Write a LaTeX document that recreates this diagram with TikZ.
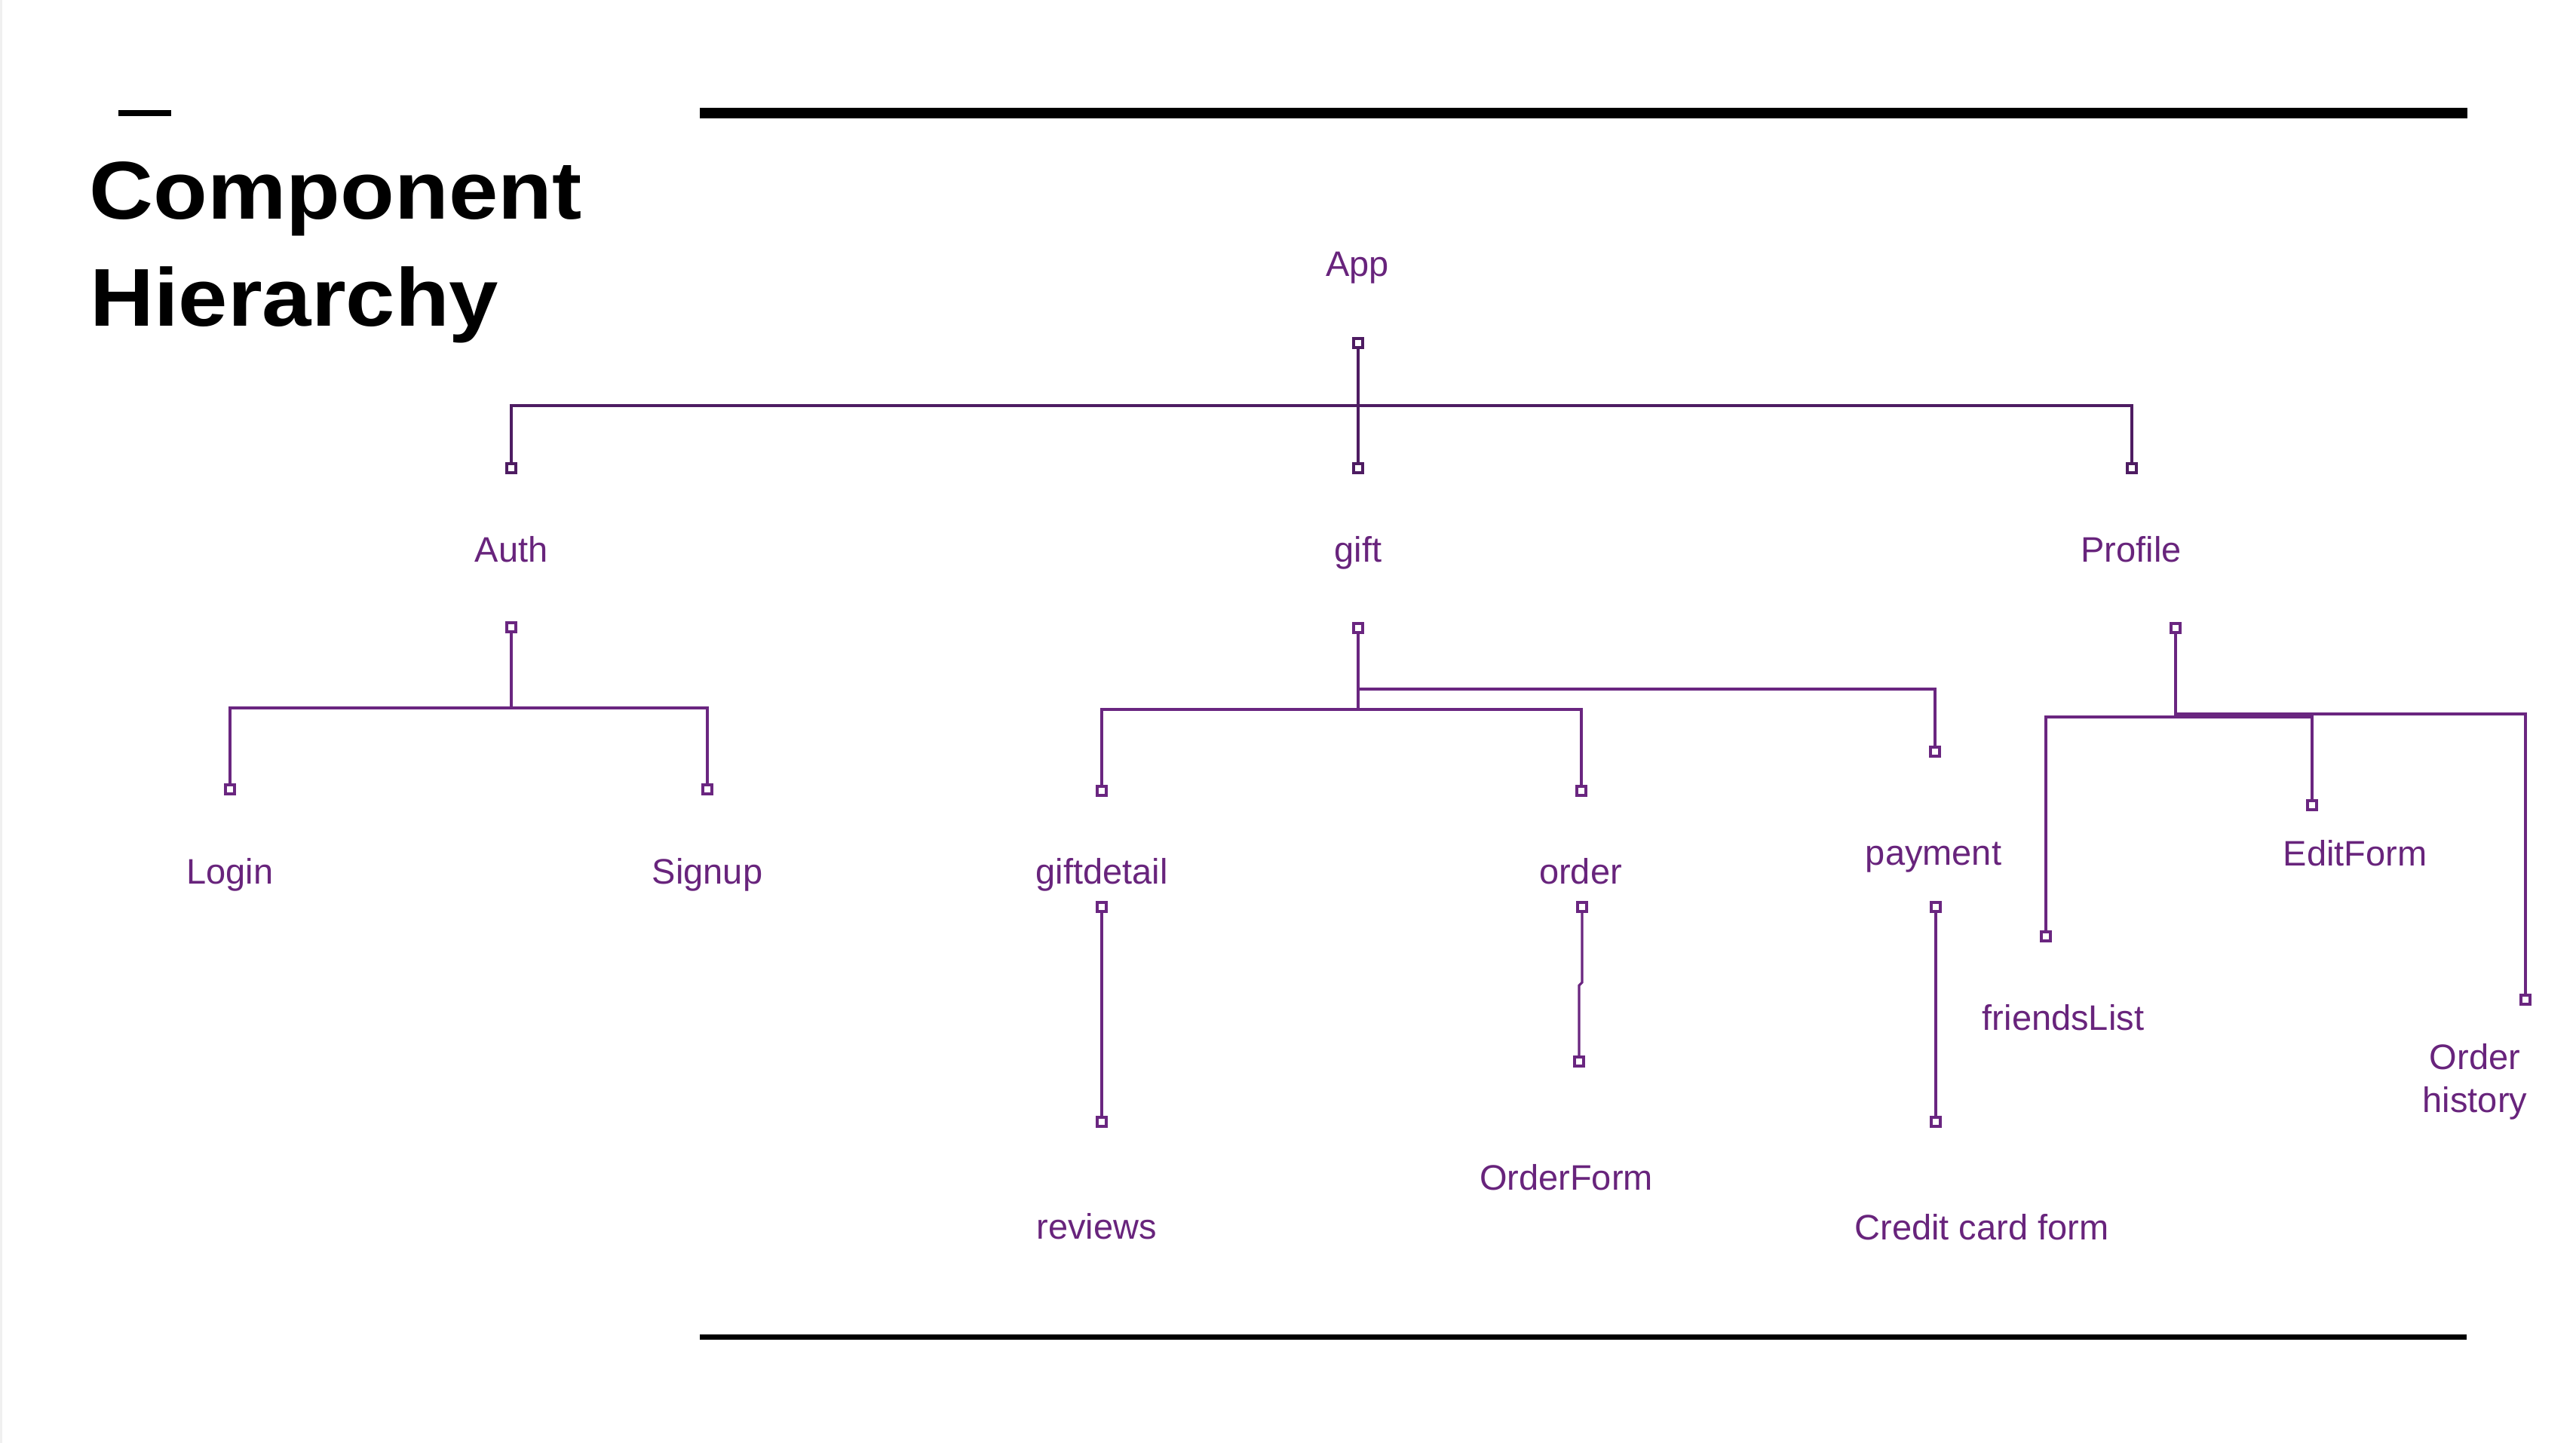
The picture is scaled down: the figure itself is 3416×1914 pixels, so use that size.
\documentclass[tikz,border=0pt]{standalone}
\usepackage{fontspec}
\setmainfont{Liberation Sans}
\usetikzlibrary{backgrounds}
\definecolor{lab}{RGB}{104,36,124}
\definecolor{wirec}{RGB}{106,38,128}
\definecolor{wiredarkc}{RGB}{78,28,98}
\tikzset{
  lbl/.style={font=\fontsize{11.75}{14.25}\selectfont, text=lab, inner sep=0pt, anchor=base},
  ttl/.style={font=\fontsize{27.2}{27.2}\selectfont\bfseries, inner sep=0pt, anchor=base west},
  port/.style={rectangle, draw=wirec, fill=white, line width=0.9pt, minimum size=3.1pt, inner sep=0pt},
  portdark/.style={port, draw=wiredarkc},
  wire/.style={draw=wirec, line width=0.8pt},
  wiredark/.style={draw=wiredarkc, line width=0.8pt}
}
\begin{document}
\begin{tikzpicture}[x=0.25pt,y=-0.25pt]
\useasboundingbox (0,0) rectangle (3416,1914);
\fill[gray!12] (0,0) rectangle (3,1914);
% decorative rules
\draw[line width=1.85pt] (157,150) -- (227,150);
\draw[line width=3.4pt] (928,150) -- (3272,150);
\draw[line width=1.85pt] (928,1773.3) -- (3271,1773.3);
% title
\node[ttl] (t1) at (118,291) {\scalebox{1.08}[1]{Component}};
\node[ttl] (t2) at (118.4,433) {\scalebox{1.08}[1]{Hierarchy}};
% labels
\node[lbl] (app) at (1800,367) {App};
\node[lbl] (auth) at (678,745) {Auth};
\node[lbl] (gift) at (1801,745) {gift};
\node[lbl] (profile) at (2826,745) {Profile};
\node[lbl] (login) at (305,1172) {Login};
\node[lbl] (signup) at (938,1172) {Signup};
\node[lbl] (giftdetail) at (1461,1172) {giftdetail};
\node[lbl] (order) at (2096,1172) {order};
\node[lbl] (payment) at (2564,1147) {payment};
\node[lbl] (editform) at (3123,1148) {EditForm};
\node[lbl] (friends) at (2736,1366) {friendsList};
\node[lbl, anchor=center, align=center] (ohist) at (3282,1435) {Order\\history};
\node[lbl] (reviews) at (1454,1643) {reviews};
\node[lbl] (orderform) at (2077,1578) {OrderForm};
\node[lbl] (ccform) at (2628,1644) {Credit card form};
% ports
\node[portdark] (appOut) at (1801,455) {};
\node[portdark] (authIn) at (678,621) {};
\node[portdark] (giftIn) at (1801,621) {};
\node[portdark] (profIn) at (2827,621) {};
\node[port] (authOut) at (678,832) {};
\node[port] (loginIn) at (305,1047) {};
\node[port] (signupIn) at (938,1047) {};
\node[port] (giftOut) at (1801,833) {};
\node[port] (gdIn) at (1461,1049) {};
\node[port] (orderIn) at (2097,1049) {};
\node[port] (payIn) at (2566,997) {};
\node[port] (profOut) at (2885,833) {};
\node[port] (friendsIn) at (2713,1242) {};
\node[port] (editIn) at (3066,1068) {};
\node[port] (ohIn) at (3349,1326) {};
\node[port] (gdOut) at (1461,1203) {};
\node[port] (reviewsIn) at (1461,1488) {};
\node[port] (orderOut) at (2098,1203) {};
\node[port] (ofIn) at (2094,1408) {};
\node[port] (payOut) at (2567,1203) {};
\node[port] (ccIn) at (2567,1488) {};
% bus points
\coordinate (appBus) at (1801,538);
\coordinate (authBus) at (678,939);
\coordinate (giftBus) at (1801,941);
\coordinate (payBus) at (1801,914);
\coordinate (profBus) at (2885,951);
\coordinate (profBusB) at (2885,947);
\coordinate (ofJogA) at (2098,1303);
\coordinate (ofJogB) at (2094,1307);
\begin{scope}[on background layer]
\draw[wiredark] (appOut.center) -- (appBus) -| (authIn.center);
\draw[wiredark] (appBus) -| (profIn.center);
\draw[wiredark] (appBus) -- (giftIn.center);
\draw[wire] (authOut.center) -- (authBus) -| (loginIn.center);
\draw[wire] (authBus) -| (signupIn.center);
\draw[wire] (giftOut.center) -- (giftBus) -| (gdIn.center);
\draw[wire] (giftBus) -| (orderIn.center);
\draw[wire] (payBus) -| (payIn.center);
\draw[wire] (profOut.center) -- (profBus) -| (friendsIn.center);
\draw[wire] (profBus) -| (editIn.center);
\draw[wire] (profBusB) -| (ohIn.center);
\draw[wire] (gdOut.center) -- (reviewsIn.center);
\draw[wire] (orderOut.center) -- (ofJogA) -- (ofJogB) -- (ofIn.center);
\draw[wire] (payOut.center) -- (ccIn.center);
\end{scope}
\end{tikzpicture}
\end{document}
